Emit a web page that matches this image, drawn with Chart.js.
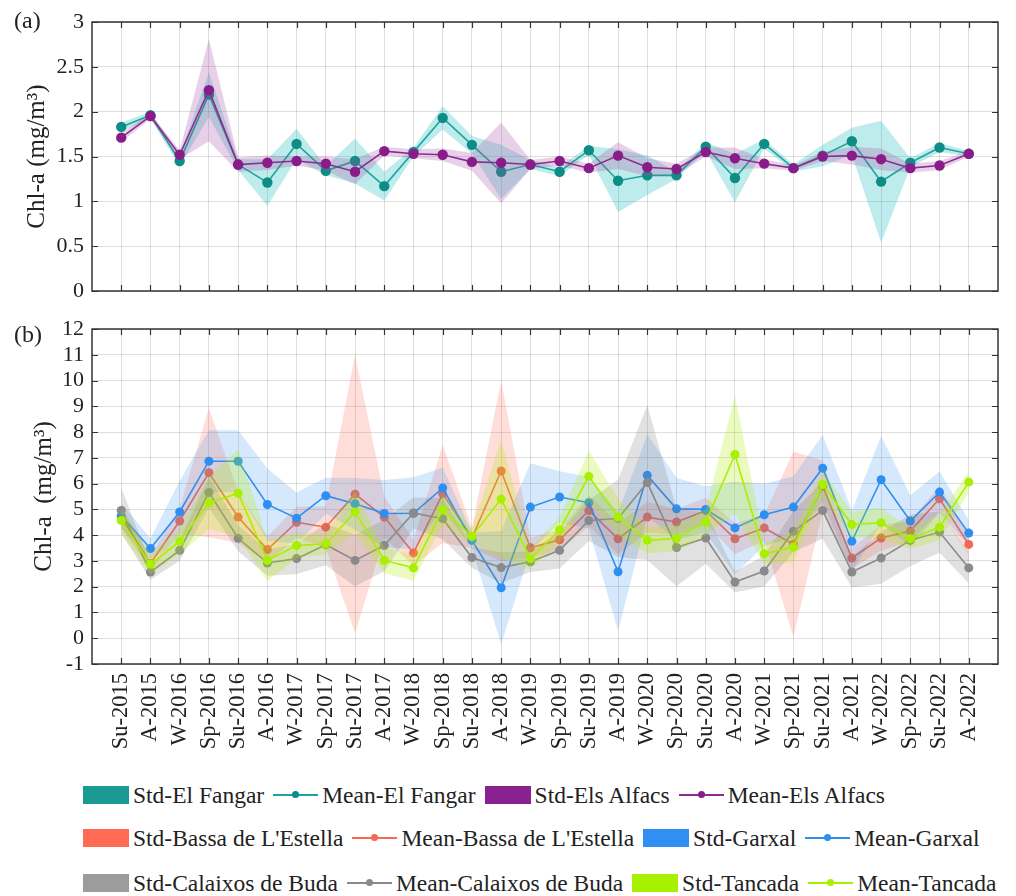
<!DOCTYPE html>
<html>
<head>
<meta charset="utf-8">
<script src="https://cdn.jsdelivr.net/npm/chart.js@4.4.1/dist/chart.umd.min.js"></script>
<style>
  body { margin: 0; background: #fff; width: 1016px; height: 896px; position: relative; overflow: hidden;
         font-family: "Liberation Serif", serif; color: #222; }
  .wrap { position: absolute; left: 0; }
  .tag { position: absolute; left: 14px; font-size: 24px; line-height: 1; }
  .legend-row { position: absolute; left: 83px; height: 26px; display: flex; align-items: center;
                font-size: 23.5px; white-space: nowrap; }
  .std-box { width: 46px; height: 18px; flex: none; }
  .mean-mark { position: relative; width: 45px; height: 18px; flex: none; }
  .mean-mark .ln { position: absolute; left: 0; right: 0; top: 8px; height: 1.6px; }
  .mean-mark .dt { position: absolute; left: 19px; top: 5px; width: 7px; height: 7px; border-radius: 50%; }
  .legend-row span.txt { margin: 0 9px 0 4px; }
</style>
</head>
<body>
<div class="wrap" style="top:0"><canvas id="chartA" width="1016" height="310"></canvas></div>
<div class="wrap" style="top:310px"><canvas id="chartB" width="1016" height="460"></canvas></div>
<div class="tag" style="top:8px">(a)</div>
<div class="tag" style="top:322px">(b)</div>
<div id="legend"></div>

<script>
// seasons on the x axis
const seasons = ['Su-2015', 'A-2015', 'W-2016', 'Sp-2016', 'Su-2016', 'A-2016', 'W-2017', 'Sp-2017', 'Su-2017', 'A-2017',
                 'W-2018', 'Sp-2018', 'Su-2018', 'A-2018', 'W-2019', 'Sp-2019', 'Su-2019', 'A-2019', 'W-2020', 'Sp-2020',
                 'Su-2020', 'A-2020', 'W-2021', 'Sp-2021', 'Su-2021', 'A-2021', 'W-2022', 'Sp-2022', 'Su-2022', 'A-2022'];

// panel (a)
const fangarMean = [1.83, 1.96, 1.45, 2.19, 1.41, 1.21, 1.64, 1.34, 1.45, 1.17, 1.55, 1.93, 1.63, 1.33, 1.41,
                    1.33, 1.57, 1.23, 1.29, 1.29, 1.61, 1.26, 1.64, 1.37, 1.51, 1.67, 1.22, 1.43, 1.60, 1.53];
const fangarStd = [0.05, 0.04, 0.06, 0.25, 0.06, 0.26, 0.17, 0.05, 0.25, 0.16, 0.05, 0.13, 0.10, 0.30, 0.05,
                   0.05, 0.05, 0.35, 0.22, 0.04, 0.05, 0.27, 0.05, 0.04, 0.12, 0.15, 0.68, 0.05, 0.05, 0.03];
const alfacsMean = [1.71, 1.95, 1.52, 2.24, 1.41, 1.43, 1.45, 1.42, 1.33, 1.56, 1.53, 1.52, 1.44, 1.43, 1.41,
                    1.45, 1.37, 1.51, 1.38, 1.36, 1.55, 1.48, 1.42, 1.37, 1.50, 1.51, 1.47, 1.37, 1.40, 1.53];
const alfacsStd = [0.05, 0.03, 0.05, 0.57, 0.08, 0.08, 0.05, 0.08, 0.14, 0.05, 0.05, 0.07, 0.10, 0.45, 0.05,
                   0.05, 0.05, 0.15, 0.10, 0.06, 0.05, 0.12, 0.05, 0.03, 0.05, 0.10, 0.12, 0.05, 0.05, 0.03];

// panel (b)
const bassaMean = [4.70, 2.90, 4.55, 6.42, 4.70, 3.44, 4.50, 4.31, 5.59, 4.70, 3.31, 5.60, 3.90, 6.49, 3.51,
                   3.82, 4.95, 3.86, 4.70, 4.51, 4.95, 3.86, 4.28, 3.65, 5.90, 3.11, 3.89, 4.16, 5.41, 3.64];
const bassaStd = [0.4, 0.3, 0.5, 2.5, 1.0, 0.5, 0.6, 0.8, 5.4, 0.8, 0.5, 1.9, 0.4, 3.5, 0.4,
                  0.4, 0.6, 0.6, 0.6, 0.5, 0.5, 0.6, 0.5, 3.6, 1.0, 0.4, 0.5, 0.4, 0.5, 0.4];
const garxalMean = [4.75, 3.48, 4.90, 6.87, 6.87, 5.19, 4.66, 5.53, 5.22, 4.84, 4.85, 5.83, 3.80, 1.96, 5.09,
                    5.48, 5.26, 2.58, 6.32, 5.02, 5.00, 4.28, 4.79, 5.09, 6.60, 3.76, 6.15, 4.55, 5.67, 4.08];
const garxalStd = [0.5, 0.4, 1.2, 1.2, 1.2, 1.4, 1.0, 0.7, 1.0, 1.3, 1.4, 0.8, 0.3, 2.2, 1.7,
                   1.0, 1.0, 2.3, 1.6, 1.2, 0.9, 1.8, 1.2, 1.2, 1.3, 1.2, 1.7, 1.0, 0.8, 0.5];
const calaixosMean = [4.96, 2.57, 3.41, 5.66, 3.88, 2.92, 3.09, 3.63, 3.02, 3.60, 4.86, 4.64, 3.13, 2.74, 2.97,
                      3.41, 4.57, 4.65, 6.04, 3.52, 3.89, 2.18, 2.61, 4.15, 4.96, 2.57, 3.11, 3.80, 4.12, 2.73];
const calaixosStd = [0.9, 0.3, 0.4, 0.6, 0.5, 0.5, 0.6, 0.8, 1.0, 1.0, 0.6, 0.8, 0.4, 0.6, 0.4,
                     0.7, 0.8, 1.5, 3.0, 1.5, 1.0, 0.4, 0.6, 0.8, 1.1, 0.6, 1.0, 1.0, 0.8, 0.6];
const tancadaMean = [4.57, 2.87, 3.76, 5.25, 5.63, 3.02, 3.60, 3.66, 4.90, 3.02, 2.73, 4.99, 3.95, 5.40, 3.09,
                     4.21, 6.28, 4.70, 3.80, 3.88, 4.51, 7.13, 3.28, 3.54, 5.97, 4.41, 4.48, 3.86, 4.31, 6.06];
const tancadaStd = [0.5, 0.4, 0.5, 1.0, 1.7, 0.8, 0.5, 0.4, 0.8, 0.5, 0.5, 0.6, 0.3, 2.3, 0.4,
                    0.5, 1.0, 0.7, 0.5, 0.5, 0.5, 2.3, 0.4, 0.6, 0.5, 0.5, 0.6, 0.4, 0.5, 0.4];

const ticksA = [0, 3, 0.5];
const ticksB = [-1, 12, 1];

const FONT = '"Liberation Serif", serif';
const INK = '#222';
const GRID = 'rgba(0,0,0,0.13)';

const seriesA = [
    { name: 'El Fangar', mean: fangarMean, std: fangarStd, band: 'rgba(40,190,190,0.30)', line: '#1ba59d', dot: '#0e8d86', key: '#1b9a94' },
    { name: 'Els Alfacs', mean: alfacsMean, std: alfacsStd, band: 'rgba(165,70,165,0.25)', line: '#8e2c8e', dot: '#8a1c8a', key: '#8a2190' }
];
const seriesB = [
    { name: "Bassa de L'Estella", mean: bassaMean, std: bassaStd, band: 'rgba(255,100,80,0.22)', line: '#f4694f', dot: '#f4694f', key: '#ff6b55' },
    { name: 'Garxal', mean: garxalMean, std: garxalStd, band: 'rgba(50,140,235,0.20)', line: '#2e8ff0', dot: '#2e8ff0', key: '#2f8ff2' },
    { name: 'Calaixos de Buda', mean: calaixosMean, std: calaixosStd, band: 'rgba(120,120,120,0.22)', line: '#8a8a8a', dot: '#8a8a8a', key: '#9c9c9c' },
    { name: 'Tancada', mean: tancadaMean, std: tancadaStd, band: 'rgba(175,240,0,0.25)', line: '#a9ef00', dot: '#a9ef00', key: '#a6f000' }
];

// frame and inward tick marks, matlab style
const frameTicks = {
    id: 'frameTicks',
    afterDatasetsDraw(chart) {
        const { ctx, chartArea: a, scales: { x, y } } = chart;
        ctx.save();
        ctx.strokeStyle = '#333';
        ctx.lineWidth = 1.2;
        ctx.beginPath();
        x.ticks.forEach(t => {
            const px = Math.round(x.getPixelForValue(t.value)) + 0.5;
            ctx.moveTo(px, a.top); ctx.lineTo(px, a.top + 6);
            ctx.moveTo(px, a.bottom); ctx.lineTo(px, a.bottom - 6);
        });
        y.ticks.forEach(t => {
            const py = Math.round(y.getPixelForValue(t.value)) + 0.5;
            ctx.moveTo(a.left, py); ctx.lineTo(a.left + 6, py);
            ctx.moveTo(a.right, py); ctx.lineTo(a.right - 6, py);
        });
        ctx.stroke();
        ctx.lineWidth = 1.5;
        ctx.strokeRect(a.left, a.top, a.right - a.left, a.bottom - a.top);
        ctx.restore();
    }
};

function buildDatasets(series, dotRadius) {
    const list = [];
    series.forEach((s, k) => {
        const upperIdx = list.length;
        list.push({
            data: s.mean.map((m, i) => ({ x: i + 1, y: m + s.std[i] })),
            borderWidth: 0, borderColor: 'transparent', pointRadius: 0, fill: false, order: 100 - 3 * k
        });
        list.push({
            data: s.mean.map((m, i) => ({ x: i + 1, y: m - s.std[i] })),
            borderWidth: 0, borderColor: 'transparent', pointRadius: 0,
            backgroundColor: s.band, fill: upperIdx, order: 99 - 3 * k
        });
        list.push({
            data: s.mean.map((m, i) => ({ x: i + 1, y: m })),
            borderColor: s.line, borderWidth: 1.6, backgroundColor: s.dot,
            pointRadius: dotRadius, pointBorderWidth: 0, fill: false, order: 98 - 3 * k
        });
    });
    return list;
}

function makeChart(id, series, yTicks, opts) {
    return new Chart(document.getElementById(id), {
        type: 'line',
        data: { datasets: buildDatasets(series, opts.dot) },
        options: {
            responsive: false,
            animation: false,
            layout: { padding: { top: opts.top, right: 18, bottom: opts.bottom, left: 0 } },
            plugins: { legend: { display: false }, tooltip: { enabled: false } },
            scales: {
                x: {
                    type: 'linear', min: 0, max: seasons.length + 1,
                    afterBuildTicks: s => { s.ticks = seasons.map((c, i) => ({ value: i + 1 })); },
                    afterFit: s => { s.height = opts.xh; },
                    grid: { color: GRID, drawTicks: false },
                    border: { display: false },
                    ticks: {
                        display: opts.labels, autoSkip: false, minRotation: 90, maxRotation: 90, padding: 9,
                        font: { family: FONT, size: 22.5 }, color: INK,
                        callback: v => seasons[v - 1]
                    }
                },
                y: {
                    min: yTicks[0], max: yTicks[1],
                    afterFit: s => { s.width = 92; },
                    grid: { color: GRID, drawTicks: false },
                    border: { display: false },
                    ticks: {
                        stepSize: yTicks[2], autoSkip: false, padding: 8,
                        font: { family: FONT, size: 22, lineHeight: 1 }, color: INK,
                        callback: v => String(v)
                    },
                    title: { display: true, text: opts.title, font: { family: FONT, size: 25 }, color: INK, padding: { top: opts.titlePad, bottom: 0 } }
                }
            }
        },
        plugins: [frameTicks]
    });
}

makeChart('chartA', seriesA, ticksA, { dot: 5.2, top: 22, bottom: 12, xh: 0, labels: false, title: 'Chl-a (mg/m³)', titlePad: 22 });
makeChart('chartB', seriesB, ticksB, { dot: 4.5, top: 18, bottom: 0, xh: 106, labels: true, title: 'Chl-a  (mg/m³)', titlePad: 29 });

// legend rows: panel (a) first, then panel (b) in two rows
const legendRows = [[seriesA[0], seriesA[1]], [seriesB[0], seriesB[1]], [seriesB[2], seriesB[3]]];
const rowTops = [782, 825, 870];
const legend = document.getElementById('legend');
legendRows.forEach((row, r) => {
    const div = document.createElement('div');
    div.className = 'legend-row';
    div.style.top = rowTops[r] + 'px';
    row.forEach(s => {
        const box = document.createElement('div');
        box.className = 'std-box';
        box.style.background = s.key;
        div.appendChild(box);
        const t1 = document.createElement('span');
        t1.className = 'txt';
        t1.textContent = 'Std-' + s.name;
        div.appendChild(t1);
        const mark = document.createElement('div');
        mark.className = 'mean-mark';
        mark.innerHTML = '<div class="ln" style="background:' + s.line + '"></div><div class="dt" style="background:' + s.dot + '"></div>';
        div.appendChild(mark);
        const t2 = document.createElement('span');
        t2.className = 'txt';
        t2.textContent = 'Mean-' + s.name;
        div.appendChild(t2);
    });
    legend.appendChild(div);
});
</script>
</body>
</html>
